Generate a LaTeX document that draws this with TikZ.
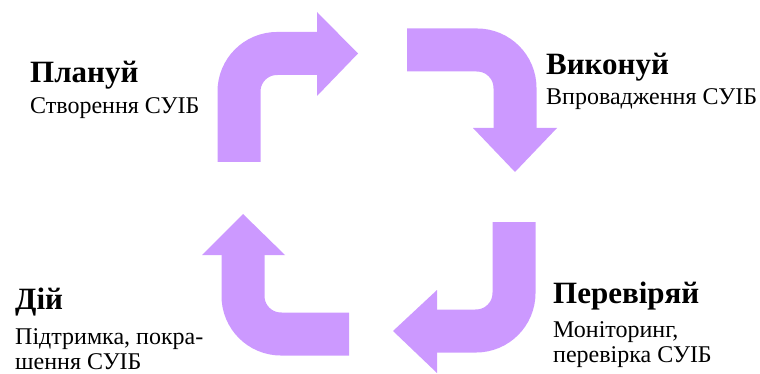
\documentclass[tikz,border=0pt]{standalone}
\usepackage{fontspec}
\setmainfont{Liberation Serif}
\usetikzlibrary{positioning}

\definecolor{lilac}{HTML}{CC99FF}

\begin{document}
\begin{tikzpicture}[x=1pt,y=-1pt,
    shaft/.style={draw=lilac,line width=43pt,rounded corners=38pt},
    head/.style={fill=lilac},
    title/.style={anchor=base west,inner sep=0pt,font=\rmfamily\fontsize{31}{34}\selectfont\bfseries},
    desc/.style={anchor=base west,inner sep=0pt,align=left,font=\rmfamily\fontsize{24}{24.5}\selectfont}]

  \useasboundingbox (0,0) rectangle (760,374);

  % arrow points
  \coordinate (pa) at (239,162);
  \coordinate (pb) at (239,53.5);
  \coordinate (pc) at (319,53.5);
  \coordinate (ea) at (407,50);
  \coordinate (eb) at (515,50);
  \coordinate (ec) at (515,130);
  \coordinate (ca) at (514,222);
  \coordinate (cb) at (514,331);
  \coordinate (cc) at (435,331);
  \coordinate (aa) at (349,334);
  \coordinate (ab) at (243,334);
  \coordinate (ac) at (243,253);

  % Plan
  \draw[shaft] (pa) -- (pb) -- (pc);
  \fill[head] (317,12) -- (358,53.5) -- (317,96) -- cycle;
  % Do
  \draw[shaft] (ea) -- (eb) -- (ec);
  \fill[head] (473,128) -- (515,172) -- (557,128) -- cycle;
  % Check
  \draw[shaft] (ca) -- (cb) -- (cc);
  \fill[head] (437,290) -- (393,331) -- (437,373) -- cycle;
  % Act
  \draw[shaft] (aa) -- (ab) -- (ac);
  \fill[head] (202,255) -- (243,214) -- (285,255) -- cycle;

  \node[title] (plan) at (30,83) {Плануй};
  \node[desc] (plantxt) at (30,114) {Створення СУІБ};
  \node[title] (do) at (546,75) {Виконуй};
  \node[desc] (dotxt) at (546,105) {Впровадження СУІБ};
  \node[title] (act) at (15,309) {Дій};
  \node[desc] (acttxt) at (15,369) {Підтримка, покра-\\шення СУІБ};
  \node[title] (check) at (553,303) {Перевіряй};
  \node[desc] (checktxt) at (553,362) {Моніторинг,\\перевірка СУІБ};

\end{tikzpicture}
\end{document}
